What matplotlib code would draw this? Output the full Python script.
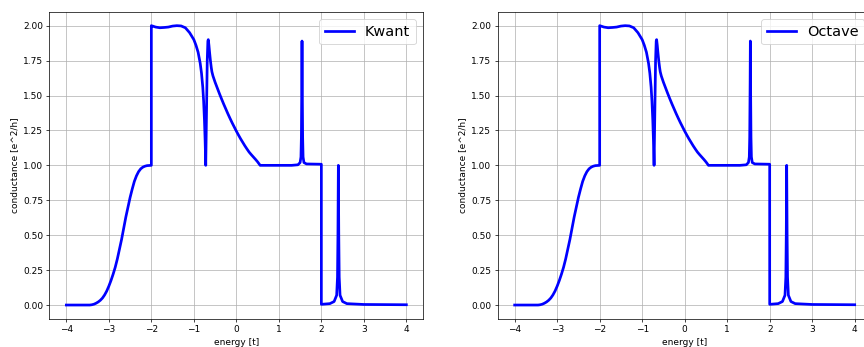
import numpy as np
import matplotlib
matplotlib.use("Agg")
import matplotlib.pyplot as plt

# conductance curve (energy in units of t)
energy = [-4.0, -3.45, -3.4, -3.35, -3.3, -3.25, -3.2, -3.15, -3.1, -3.05,
          -3.0, -2.95, -2.9, -2.85, -2.8, -2.75, -2.7, -2.65, -2.6, -2.55,
          -2.5, -2.45, -2.4, -2.35, -2.3, -2.25, -2.2, -2.15, -2.1, -2.0,
          -2.0, -1.95, -1.9, -1.8, -1.7, -1.6, -1.5, -1.4, -1.3, -1.2,
          -1.1, -1.05, -1.0, -0.95, -0.9, -0.85, -0.82, -0.79, -0.77, -0.75,
          -0.735, -0.72, -0.70, -0.685, -0.67, -0.66, -0.645, -0.63, -0.61, -0.59,
          -0.575, -0.55, -0.5, -0.45, -0.4, -0.35, -0.3, -0.25, -0.2, -0.15,
          -0.1, -0.05, 0.0, 0.05, 0.1, 0.15, 0.2, 0.25, 0.3, 0.35,
          0.4, 0.45, 0.5, 0.56, 1.3, 1.45, 1.5, 1.52, 1.53, 1.54,
          1.545, 1.55, 1.56, 1.57, 1.59, 1.65, 2.0, 2.0, 2.2, 2.3,
          2.36, 2.38, 2.39, 2.40, 2.41, 2.42, 2.44, 2.5, 2.6, 3.0,
          4.0]
conductance = [0.0, 0.0, 0.002, 0.006, 0.013, 0.022, 0.034, 0.05, 0.072, 0.10,
               0.135, 0.175, 0.22, 0.27, 0.33, 0.40, 0.47, 0.55, 0.63, 0.70,
               0.77, 0.83, 0.885, 0.925, 0.955, 0.975, 0.987, 0.994, 0.998, 1.0,
               2.0, 1.995, 1.99, 1.985, 1.987, 1.99, 1.997, 2.0, 1.998, 1.985,
               1.95, 1.925, 1.90, 1.86, 1.81, 1.73, 1.66, 1.56, 1.46, 1.32,
               1.18, 1.0, 1.42, 1.75, 1.89, 1.90, 1.86, 1.81, 1.75, 1.70,
               1.67, 1.64, 1.595, 1.555, 1.515, 1.477, 1.44, 1.405, 1.37, 1.337,
               1.305, 1.275, 1.245, 1.217, 1.19, 1.165, 1.14, 1.117, 1.095, 1.077,
               1.06, 1.043, 1.025, 1.0, 1.0, 1.004, 1.02, 1.06, 1.2, 1.6,
               1.89, 1.6, 1.2, 1.06, 1.02, 1.01, 1.008, 0.005, 0.01, 0.025,
               0.07, 0.2, 0.5, 1.0, 0.5, 0.2, 0.07, 0.025, 0.01, 0.004,
               0.002]
labels = ["Kwant", "Octave"]

DPI = 65
fig = plt.figure(figsize=(864 / DPI, 347 / DPI), dpi=DPI)
ax_left = fig.add_axes([0.0571, 0.0807, 0.4329, 0.8856])
ax_right = fig.add_axes([0.5760, 0.0807, 0.4329, 0.8856])

for ax, lab in zip([ax_left, ax_right], labels):
    ax.plot(energy, conductance, color="blue", linewidth=3, label=lab)
    ax.set_xlabel("energy [t]")
    ax.set_ylabel("conductance [e^2/h]")
    ax.set_xticks(np.arange(-4, 5, 1))
    ax.grid(True)
    ax.legend(loc="upper right", fontsize=16)

fig.savefig("out.png", dpi=DPI)
